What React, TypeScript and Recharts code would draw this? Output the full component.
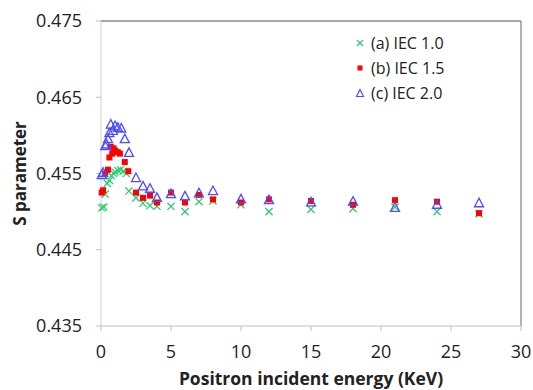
import React from "react";
import {
  ScatterChart,
  Scatter,
  XAxis,
  YAxis,
  Legend,
  ReferenceLine,
} from "recharts";

const xTicks = [0, 5, 10, 15, 20, 25, 30];
const yTicks = [0.435, 0.445, 0.455, 0.465, 0.475];

const energyA = [0.05, 0.2, 0.3, 0.45, 0.6, 0.75, 0.9, 1.0, 1.2, 1.4, 1.6, 1.8, 2.0, 2.5, 3, 3.5, 4, 5, 6, 7, 8, 10, 12, 15, 18, 21, 24, 27];
const sA = [0.4505, 0.4506, 0.4523, 0.4537, 0.4541, 0.4547, 0.455, 0.4552, 0.4554, 0.4555, 0.4553, 0.455, 0.4527, 0.4518, 0.4511, 0.4508, 0.4507, 0.4507, 0.45, 0.4513, 0.4514, 0.4509, 0.45, 0.4503, 0.4504, 0.4506, 0.45, 0.4497];

const energyB = [0.05, 0.15, 0.3, 0.5, 0.6, 0.7, 0.8, 0.9, 1.0, 1.2, 1.35, 1.7, 1.95, 2.5, 3, 3.5, 4, 5, 6, 7, 8, 10, 12, 15, 18, 21, 24, 27];
const sB = [0.4525, 0.4528, 0.455, 0.4555, 0.4571, 0.4585, 0.4576, 0.4583, 0.458, 0.4578, 0.4576, 0.4565, 0.4553, 0.4525, 0.4518, 0.4521, 0.4512, 0.4525, 0.4512, 0.4522, 0.4516, 0.4512, 0.4516, 0.4514, 0.4509, 0.4515, 0.4513, 0.4498];

const energyC = [0.05, 0.15, 0.3, 0.4, 0.5, 0.6, 0.7, 0.85, 1.0, 1.2, 1.45, 1.7, 2.0, 2.5, 3, 3.5, 4, 5, 6, 7, 8, 10, 12, 15, 18, 21, 24, 27];
const sC = [0.4549, 0.4552, 0.4587, 0.4589, 0.4596, 0.4604, 0.4615, 0.4607, 0.4613, 0.4611, 0.461, 0.4596, 0.4578, 0.4545, 0.4534, 0.4531, 0.4519, 0.4524, 0.4521, 0.4525, 0.4528, 0.4517, 0.4516, 0.4513, 0.4514, 0.4506, 0.451, 0.4512];

const seriesNames = ["(a) IEC 1.0", "(b) IEC 1.5", "(c) IEC 2.0"];

const toData = (xs: number[], ys: number[]) => xs.map((x, i) => ({ x, y: ys[i] }));
const dataA = toData(energyA, sA);
const dataB = toData(energyB, sB);
const dataC = toData(energyC, sC);

const GREEN = "#2ecc71";
const RED = "#ff0000";
const BLUE = "#4b4bff";

const CrossShape = (p: any) => {
  const { cx, cy } = p;
  const r = 3.6;
  return (
    <g>
      <line x1={cx - r} y1={cy - r} x2={cx + r} y2={cy + r} stroke={GREEN} strokeWidth={1.3} />
      <line x1={cx - r} y1={cy + r} x2={cx + r} y2={cy - r} stroke={GREEN} strokeWidth={1.3} />
    </g>
  );
};

const SquareShape = (p: any) => {
  const { cx, cy } = p;
  const s = 6;
  return <rect x={cx - s / 2} y={cy - s / 2} width={s} height={s} fill={RED} />;
};

const TriShape = (p: any) => {
  const { cx, cy } = p;
  const w = 4.5;
  const h = 8.5;
  return (
    <polygon
      points={`${cx},${cy - h / 2} ${cx - w},${cy + h / 2} ${cx + w},${cy + h / 2}`}
      fill="none"
      stroke={BLUE}
      strokeWidth={1.3}
    />
  );
};

const legendIcons = [
  <svg width={10} height={10} key="a">
    <line x1={2} y1={2} x2={8} y2={8} stroke={GREEN} strokeWidth={1.3} />
    <line x1={2} y1={8} x2={8} y2={2} stroke={GREEN} strokeWidth={1.3} />
  </svg>,
  <svg width={10} height={10} key="b">
    <rect x={2.5} y={2.5} width={5} height={5} fill={RED} />
  </svg>,
  <svg width={10} height={10} key="c">
    <polygon points="5,1.5 1.5,8.5 8.5,8.5" fill="none" stroke={BLUE} strokeWidth={1.2} />
  </svg>,
];

const LegendContent = () => (
  <div style={{ fontFamily: "'Open Sans', sans-serif", fontSize: 16, color: "#222" }}>
    {seriesNames.map((n, i) => (
      <div key={n} style={{ display: "flex", alignItems: "center", height: 25 }}>
        <span style={{ display: "inline-block", width: 16, lineHeight: 0 }}>{legendIcons[i]}</span>
        <span>{n}</span>
      </div>
    ))}
  </div>
);

const tickStyle = { fontFamily: "'Open Sans', sans-serif", fontSize: 18, fill: "#222" };

export default function App() {
  return (
    <div style={{ position: "absolute", left: 0, top: 0, width: 533, height: 390, background: "#fff" }}>
      <ScatterChart width={533} height={390} margin={{ top: 21, right: 12, left: 0, bottom: 0 }}>
        <XAxis
          type="number"
          dataKey="x"
          domain={[0, 30]}
          ticks={xTicks}
          interval={0}
          height={64}
          tick={tickStyle}
          tickSize={5}
          tickMargin={14}
          axisLine={{ stroke: "#bfbfbf" }}
          tickLine={{ stroke: "#bfbfbf" }}
          label={{
            value: "Positron incident energy (KeV)",
            position: "insideBottom",
            offset: 5,
            style: { fontFamily: "'Open Sans', sans-serif", fontSize: 17.5, fontWeight: 700, fill: "#222" },
          }}
        />
        <YAxis
          type="number"
          dataKey="y"
          domain={[0.435, 0.475]}
          ticks={yTicks}
          interval={0}
          width={101}
          tick={tickStyle}
          tickFormatter={(v: number) => v.toFixed(3)}
          tickSize={5}
          tickMargin={14}
          axisLine={{ stroke: "#d0d0d0" }}
          tickLine={{ stroke: "#bfbfbf" }}
          label={{
            value: "S parameter",
            angle: -90,
            position: "insideLeft",
            offset: 20,
            style: { textAnchor: "middle", fontFamily: "'Open Sans', sans-serif", fontSize: 17, fontWeight: 700, fill: "#222" },
          }}
        />
        <ReferenceLine y={0.475} stroke="#8a8a8a" strokeWidth={1.3} />
        <ReferenceLine x={30} stroke="#8a8a8a" strokeWidth={1.3} />
        <Legend
          layout="vertical"
          verticalAlign="middle"
          align="center"
          content={<LegendContent />}
          wrapperStyle={{ left: 355, top: 30, width: 130 }}
        />
        <Scatter name={seriesNames[0]} data={dataA} shape={<CrossShape />} isAnimationActive={false} />
        <Scatter name={seriesNames[1]} data={dataB} shape={<SquareShape />} isAnimationActive={false} />
        <Scatter name={seriesNames[2]} data={dataC} shape={<TriShape />} isAnimationActive={false} />
      </ScatterChart>
    </div>
  );
}
